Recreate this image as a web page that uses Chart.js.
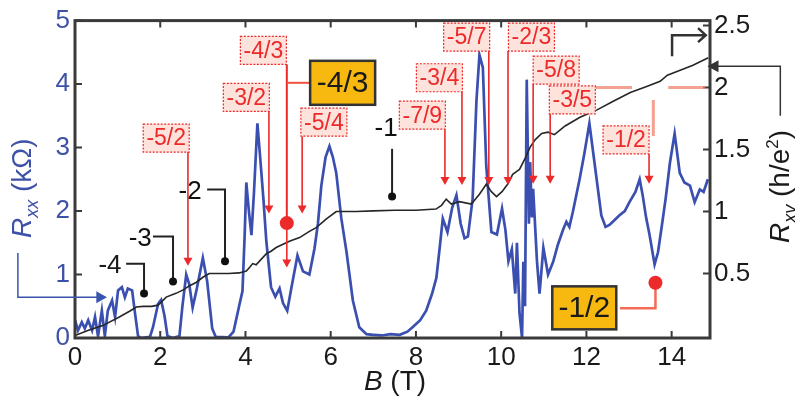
<!DOCTYPE html>
<html>
<head>
<meta charset="utf-8">
<script src="https://cdn.jsdelivr.net/npm/chart.js@4"></script>
<style>
  body { margin: 0; background: #fff; }
  #wrap { width: 795px; height: 400px; }
</style>
</head>
<body>
<div id="wrap"><canvas id="chart" width="795" height="400"></canvas></div>
<script>
// B field (T) and Rxx (kOhm)
let bRxx = [
  0, 0.07, 0.16, 0.23, 0.31, 0.4, 0.47, 0.54, 0.63, 0.7,
  0.77, 0.87, 0.94, 1.01, 1.1, 1.17, 1.24, 1.34, 1.41, 1.48,
  1.55, 1.76, 1.83, 1.95, 2.02, 2.1, 2.17, 2.3, 2.45, 2.52,
  2.61, 2.68, 2.76, 2.85, 3.0, 3.1, 3.22, 3.3, 3.6, 3.72,
  3.85, 3.93, 3.98, 4.02, 4.08, 4.14, 4.2, 4.28, 4.35, 4.42,
  4.49, 4.6, 4.7, 4.8, 4.88, 4.98, 5.08, 5.22, 5.35, 5.5,
  5.62, 5.7, 5.78, 5.88, 5.97, 6.05, 6.13, 6.25, 6.37, 6.52,
  6.67, 6.84, 7.0, 7.2, 7.4, 7.62, 7.8, 7.92, 8.1, 8.24,
  8.38, 8.48, 8.57, 8.63, 8.74, 8.85, 8.95, 9.05, 9.14, 9.22,
  9.33, 9.42, 9.49, 9.57, 9.65, 9.77, 9.9, 10.02, 10.1, 10.17,
  10.25, 10.33, 10.37, 10.43, 10.49, 10.52, 10.56, 10.6, 10.65, 10.68,
  10.72, 10.75, 10.84, 10.9, 10.99, 11.1, 11.22, 11.33, 11.45, 11.53,
  11.6, 11.68, 11.84, 11.95, 12.07, 12.19, 12.35, 12.45, 12.54, 12.65,
  12.77, 12.9, 13.01, 13.15, 13.25, 13.32, 13.4, 13.48, 13.6, 13.68,
  13.76, 13.86, 13.96, 14.07, 14.19, 14.3, 14.43, 14.54, 14.66, 14.75,
  14.85,
];
let rxx = [
  0.28, 0.12, 0.25, 0.15, 0.28, 0.12, 0.33, 0.03, 0.43, 0.03,
  0.43, 0.59, 0.33, 0.75, 0.8, 0.64, 0.78, 0.75, 0.38, 0.03,
  0, 0.02, 0.17, 0.54, 0.6, 0.35, 0.03, 0, 0.03, 0.5,
  1.0, 0.85, 0.48, 0.75, 1.26, 0.9, 0.15, 0.02, 0.01, 0.1,
  0.5, 0.74, 1.6, 2.45, 2.0, 1.62, 2.3, 3.38, 2.8, 2.2,
  1.52, 0.8, 0.65, 0.78, 0.55, 0.43, 0.8, 1.3, 1.05, 1.0,
  1.41, 1.8, 2.4, 2.85, 3.02, 2.85, 2.6, 1.88, 1.36, 0.59,
  0.17, 0.06, 0.05, 0.04, 0.06, 0.05, 0.1, 0.17, 0.28, 0.43,
  0.7, 0.95, 1.5, 1.88, 1.67, 2.05, 2.25, 1.8, 1.57, 1.6,
  2.19, 3.74, 4.46, 4.26, 2.71, 1.67, 1.63, 2.04, 1.7, 1.21,
  1.4, 0.7, 1.5, 0.39, 0, 1.2, 0.5, 4.07, 1.8, 2.77,
  1.9, 2.35, 1.21, 0.7, 1.42, 1.0, 1.2, 1.47, 1.7, 1.83,
  1.75, 1.98, 2.5, 2.9, 3.38, 2.76, 1.93, 1.75, 1.78, 1.85,
  1.93, 2.0, 2.14, 2.3, 2.5, 2.25, 1.9, 1.63, 1.16, 1.35,
  1.72, 2.2, 2.76, 3.22, 2.6, 2.45, 2.4, 2.14, 2.34, 2.3,
  2.5,
];

// B field (T) and Rxy (h/e^2)
let bRxy = [
  0, 0.3, 0.65, 1.04, 1.3, 1.44, 1.6, 1.8, 1.95, 2.14,
  2.37, 2.55, 2.68, 2.85, 3.0, 3.15, 3.4, 3.6, 3.85, 4.02,
  4.1, 4.17, 4.25, 4.33, 4.49, 4.6, 4.72, 5.03, 5.27, 5.5,
  5.66, 5.9, 6.13, 6.6, 7.0, 7.5, 8.0, 8.47, 8.6, 8.71,
  8.83, 9.02, 9.3, 9.49, 9.65, 9.77, 9.89, 10.02, 10.15, 10.27,
  10.35, 10.43, 10.55, 10.68, 10.8, 10.95, 11.1, 11.25, 11.5, 11.85,
  12.25, 12.63, 13.03, 13.43, 13.73, 13.9, 14.2, 14.5, 14.86,
];
let rxy = [
  0, 0.04, 0.08, 0.15, 0.2, 0.23, 0.235, 0.235, 0.245, 0.31,
  0.34, 0.37, 0.4, 0.43, 0.47, 0.5, 0.5, 0.5, 0.505, 0.52,
  0.55, 0.58, 0.57, 0.6, 0.66, 0.68, 0.71, 0.76, 0.79, 0.84,
  0.87, 0.94, 1.0, 1.0, 1.005, 1.01, 1.01, 1.02, 1.05, 1.1,
  1.06, 1.08, 1.06, 1.14, 1.22, 1.16, 1.12, 1.16, 1.22, 1.3,
  1.32, 1.34, 1.42, 1.52, 1.58, 1.63, 1.64, 1.62, 1.69, 1.76,
  1.82, 1.89, 1.96, 2.01, 2.05, 2.1, 2.14, 2.18, 2.24,
];

let xTicks = [0, 2, 4, 6, 8, 10, 12, 14];
let leftTicks = [0, 1, 2, 3, 4, 5];
let rightTicks = [0.5, 1, 1.5, 2, 2.5];

// filling-factor tags (positions in B / Rxx units)
const redTags = [
  { text: "-4/3", x: 4.42, y: 4.53, ax: 4.97, tip: 1.11, dot: 1.81 },
  { text: "-3/2", x: 4.02, y: 3.79, ax: 4.55, tip: 1.96 },
  { text: "-5/2", x: 2.14, y: 3.15, ax: 2.65, tip: 1.14 },
  { text: "-5/4", x: 5.84, y: 3.40, ax: 5.33, tip: 1.96 },
  { text: "-7/9", x: 8.15, y: 3.51, ax: 8.68, tip: 2.41 },
  { text: "-3/4", x: 8.55, y: 4.10, ax: 9.08, tip: 2.41 },
  { text: "-5/7", x: 9.19, y: 4.74, ax: 9.71, tip: 2.41 },
  { text: "-2/3", x: 10.71, y: 4.74, ax: 10.16, tip: 2.41 },
  { text: "-5/8", x: 11.29, y: 4.22, ax: 10.75, tip: 2.43 },
  { text: "-3/5", x: 11.67, y: 3.75, ax: 11.15, tip: 2.43 },
  { text: "-1/2", x: 12.93, y: 3.12, ax: 13.47, tip: 2.43 },
];
const plateauTags = [
  { text: "-4", x: 0.82, y: 1.14, b0: 1.2, b1: 1.62, by: 1.17, dot: 0.70 },
  { text: "-3", x: 1.53, y: 1.56, b0: 1.83, b1: 2.30, by: 1.60, dot: 0.89 },
  { text: "-2", x: 2.70, y: 2.31, b0: 3.10, b1: 3.52, by: 2.34, dot: 1.21 },
];

const FONT = "'Liberation Sans', Arial, sans-serif";
const BLUE = "#3d51a8";
const RED = "#ec2a2a";

function arrowDown(ctx, x, y0, y1, color) {
  ctx.strokeStyle = color;
  ctx.fillStyle = color;
  ctx.lineWidth = 1.6;
  ctx.beginPath();
  ctx.moveTo(x, y0);
  ctx.lineTo(x, y1 - 6);
  ctx.stroke();
  ctx.beginPath();
  ctx.moveTo(x - 4.5, y1 - 8);
  ctx.lineTo(x + 4.5, y1 - 8);
  ctx.lineTo(x, y1);
  ctx.closePath();
  ctx.fill();
}

function dot(ctx, x, y, r, color) {
  ctx.fillStyle = color;
  ctx.beginPath();
  ctx.arc(x, y, r, 0, Math.PI * 2);
  ctx.fill();
}

const decor = {
  id: "decor",
  afterDraw(chart) {
    const ctx = chart.ctx;
    const a = chart.chartArea;
    const sx = chart.scales.x, sy = chart.scales.y, sr = chart.scales.y1;
    const X = (v) => sx.getPixelForValue(v);
    const Y = (v) => sy.getPixelForValue(v);
    const YR = (v) => sr.getPixelForValue(v);
    ctx.save();

    // frame with inward ticks
    ctx.strokeStyle = "#3a3a3a";
    ctx.lineWidth = 3;
    ctx.strokeRect(a.left, a.top, a.right - a.left, a.bottom - a.top);
    ctx.lineWidth = 2;
    ctx.beginPath();
    xTicks.forEach((v) => {
      ctx.moveTo(X(v), a.bottom); ctx.lineTo(X(v), a.bottom - 7);
      ctx.moveTo(X(v), a.top); ctx.lineTo(X(v), a.top + 7);
    });
    leftTicks.forEach((v) => { ctx.moveTo(a.left, Y(v)); ctx.lineTo(a.left + 7, Y(v)); });
    rightTicks.forEach((v) => { ctx.moveTo(a.right, YR(v)); ctx.lineTo(a.right - 7, YR(v)); });
    ctx.stroke();

    // salmon dashed guide near Rxy = 2
    ctx.strokeStyle = "rgba(242,130,110,0.75)";
    ctx.lineWidth = 3;
    ctx.beginPath();
    ctx.moveTo(X(12.21), YR(2)); ctx.lineTo(X(13.07), YR(2));
    ctx.moveTo(X(13.92), YR(2)); ctx.lineTo(X(14.79), YR(2));
    ctx.moveTo(X(13.57), YR(1.9)); ctx.lineTo(X(13.57), YR(1.61));
    ctx.stroke();

    // red tags with arrows
    ctx.font = "23px " + FONT;
    ctx.textAlign = "center";
    ctx.textBaseline = "middle";
    redTags.forEach((t) => {
      const cx = X(t.x), cy = Y(t.y), w = 46, h = 28;
      const bottom = cy + h / 2;
      if (t.dot !== undefined) {
        ctx.strokeStyle = RED;
        ctx.lineWidth = 2;
        ctx.beginPath();
        ctx.moveTo(X(t.ax), bottom);
        ctx.lineTo(X(t.ax), Y(t.dot));
        ctx.stroke();
        arrowDown(ctx, X(t.ax), Y(t.dot), Y(t.tip), RED);
        dot(ctx, X(t.ax), Y(t.dot), 7, RED);
        // link to yellow box
        ctx.strokeStyle = "#f0503c";
        ctx.lineWidth = 2;
        ctx.beginPath();
        ctx.moveTo(X(t.ax), Y(4.02));
        ctx.lineTo(X(5.52), Y(4.02));
        ctx.stroke();
      } else {
        arrowDown(ctx, X(t.ax), bottom, Y(t.tip), RED);
      }
      ctx.fillStyle = "#fde3dc";
      ctx.fillRect(cx - w / 2, cy - h / 2, w, h);
      ctx.setLineDash([2, 1.5]);
      ctx.strokeStyle = RED;
      ctx.lineWidth = 1.2;
      ctx.strokeRect(cx - w / 2, cy - h / 2, w, h);
      ctx.setLineDash([]);
      ctx.fillStyle = RED;
      ctx.fillText(t.text, cx, cy + 1);
    });

    // -1/2 marker on Rxx minimum
    ctx.strokeStyle = "#f36a55";
    ctx.lineWidth = 2.5;
    ctx.beginPath();
    ctx.moveTo(X(13.62), Y(0.87));
    ctx.lineTo(X(13.62), Y(0.47));
    ctx.lineTo(X(12.79), Y(0.47));
    ctx.stroke();
    dot(ctx, X(13.62), Y(0.87), 7, RED);

    // yellow boxes
    [{ text: "-4/3", x: 6.28, y: 4.02, w: 65, h: 44 },
     { text: "-1/2", x: 11.95, y: 0.475, w: 64, h: 43 }].forEach((b) => {
      const cx = X(b.x), cy = Y(b.y);
      ctx.fillStyle = "#f7b810";
      ctx.fillRect(cx - b.w / 2, cy - b.h / 2, b.w, b.h);
      ctx.strokeStyle = "#333";
      ctx.lineWidth = 2.5;
      ctx.strokeRect(cx - b.w / 2, cy - b.h / 2, b.w, b.h);
      ctx.fillStyle = "#1a1a1a";
      ctx.font = "30px " + FONT;
      ctx.fillText(b.text, cx, cy + 1);
    });

    // integer plateau labels
    ctx.font = "26px " + FONT;
    ctx.fillStyle = "#1a1a1a";
    ctx.strokeStyle = "#222";
    ctx.lineWidth = 2;
    plateauTags.forEach((t) => {
      ctx.fillText(t.text, X(t.x), Y(t.y));
      ctx.beginPath();
      ctx.moveTo(X(t.b0), Y(t.by));
      ctx.lineTo(X(t.b1), Y(t.by));
      ctx.lineTo(X(t.b1), Y(t.dot));
      ctx.stroke();
      dot(ctx, X(t.b1), Y(t.dot), 4, "#111");
    });
    ctx.fillText("-1", X(7.3), Y(3.3));
    ctx.beginPath();
    ctx.moveTo(X(7.44), Y(2.98));
    ctx.lineTo(X(7.44), Y(2.23));
    ctx.stroke();
    dot(ctx, X(7.44), Y(2.23), 4, "#111");

    // corner arrow pointing to right axis
    ctx.strokeStyle = "#333";
    ctx.lineWidth = 2.5;
    ctx.beginPath();
    ctx.moveTo(X(14.01), Y(4.44));
    ctx.lineTo(X(14.01), Y(4.77));
    ctx.lineTo(X(14.78), Y(4.77));
    ctx.moveTo(X(14.62), Y(4.77) - 7);
    ctx.lineTo(X(14.8), Y(4.77));
    ctx.lineTo(X(14.62), Y(4.77) + 7);
    ctx.stroke();

    // arrow from right title to Rxy curve end
    ctx.lineWidth = 1.5;
    ctx.fillStyle = "#333";
    ctx.beginPath();
    ctx.moveTo(X(16.55), Y(3.5));
    ctx.lineTo(X(16.55), Y(4.28));
    ctx.lineTo(X(15.05), Y(4.28));
    ctx.stroke();
    ctx.beginPath();
    ctx.moveTo(X(14.84), Y(4.28));
    ctx.lineTo(X(15.1), Y(4.28) - 6);
    ctx.lineTo(X(15.1), Y(4.28) + 6);
    ctx.closePath();
    ctx.fill();

    // blue arrow from left title to Rxx curve
    ctx.strokeStyle = "#3a55b0";
    ctx.fillStyle = "#3a55b0";
    ctx.beginPath();
    ctx.moveTo(X(-1.34), Y(1.34));
    ctx.lineTo(X(-1.34), Y(0.64));
    ctx.lineTo(X(0.52), Y(0.64));
    ctx.stroke();
    ctx.beginPath();
    ctx.moveTo(X(0.75), Y(0.64));
    ctx.lineTo(X(0.5), Y(0.64) - 6);
    ctx.lineTo(X(0.5), Y(0.64) + 6);
    ctx.closePath();
    ctx.fill();

    // axis titles
    ctx.textAlign = "left";
    ctx.textBaseline = "alphabetic";
    // x title
    ctx.fillStyle = "#1a1a1a";
    ctx.font = "italic 28px " + FONT;
    const wB = ctx.measureText("B").width;
    ctx.font = "28px " + FONT;
    const wT = ctx.measureText(" (T)").width;
    let x0 = 395 - (wB + wT) / 2;
    ctx.font = "italic 28px " + FONT;
    ctx.fillText("B", x0, 390);
    ctx.font = "28px " + FONT;
    ctx.fillText(" (T)", x0 + wB, 390);

    // left title
    ctx.save();
    ctx.translate(31, 238);
    ctx.rotate(-Math.PI / 2);
    ctx.fillStyle = BLUE;
    ctx.font = "italic 28px " + FONT;
    ctx.fillText("R", 0, 0);
    let p = ctx.measureText("R").width;
    ctx.font = "italic 18px " + FONT;
    ctx.fillText("xx", p, 7);
    p += ctx.measureText("xx").width;
    ctx.font = "28px " + FONT;
    ctx.fillText(" (k\u03A9)", p, 0);
    ctx.restore();

    // right title
    ctx.save();
    ctx.translate(789, 243);
    ctx.rotate(-Math.PI / 2);
    ctx.fillStyle = "#1a1a1a";
    ctx.font = "italic 28px " + FONT;
    ctx.fillText("R", 0, 0);
    p = ctx.measureText("R").width;
    ctx.font = "italic 18px " + FONT;
    ctx.fillText("xy", p, 7);
    p += ctx.measureText("xy").width;
    ctx.font = "28px " + FONT;
    ctx.fillText(" (h/e", p, 0);
    p += ctx.measureText(" (h/e").width;
    ctx.font = "17px " + FONT;
    ctx.fillText("2", p, -11);
    p += ctx.measureText("2").width;
    ctx.font = "28px " + FONT;
    ctx.fillText(")", p, 0);
    ctx.restore();

    ctx.restore();
  },
};

new Chart(document.getElementById("chart"), {
  type: "line",
  data: {
    datasets: [
      {
        label: "Rxy",
        data: bRxy.map((b, i) => ({ x: b, y: rxy[i] })),
        yAxisID: "y1",
        borderColor: "#262626",
        borderWidth: 1.6,
        pointRadius: 0,
        tension: 0,
      },
      {
        label: "Rxx",
        data: bRxx.map((b, i) => ({ x: b, y: rxx[i] })),
        yAxisID: "y",
        borderColor: "#3a4fb0",
        borderWidth: 2.7,
        pointRadius: 0,
        tension: 0,
      },
    ],
  },
  options: {
    responsive: false,
    animation: false,
    layout: { padding: { top: 17, left: 0, right: 0, bottom: 0 } },
    plugins: { legend: { display: false }, tooltip: { enabled: false } },
    scales: {
      x: {
        type: "linear",
        min: 0,
        max: 14.9,
        afterBuildTicks: (s) => { s.ticks = xTicks.map((v) => ({ value: v })); },
        afterFit: (s) => { s.height = 62; },
        grid: { display: false, drawTicks: false },
        border: { display: false },
        ticks: { font: { family: FONT, size: 26 }, color: "#1a1a1a", padding: 4, maxRotation: 0, autoSkip: false },
      },
      y: {
        position: "left",
        min: 0,
        max: 5,
        afterBuildTicks: (s) => { s.ticks = leftTicks.map((v) => ({ value: v })); },
        afterFit: (s) => { s.width = 75; },
        grid: { display: false, drawTicks: false },
        border: { display: false },
        ticks: { font: { family: FONT, size: 26 }, color: BLUE, padding: 5 },
      },
      y1: {
        position: "right",
        min: -0.02,
        max: 2.54,
        afterBuildTicks: (s) => { s.ticks = rightTicks.map((v) => ({ value: v })); },
        afterFit: (s) => { s.width = 85; },
        grid: { display: false, drawTicks: false },
        border: { display: false },
        ticks: { font: { family: FONT, size: 26 }, color: "#1a1a1a", padding: 4, callback: (v) => String(v) },
      },
    },
  },
  plugins: [decor],
});
</script>
</body>
</html>
